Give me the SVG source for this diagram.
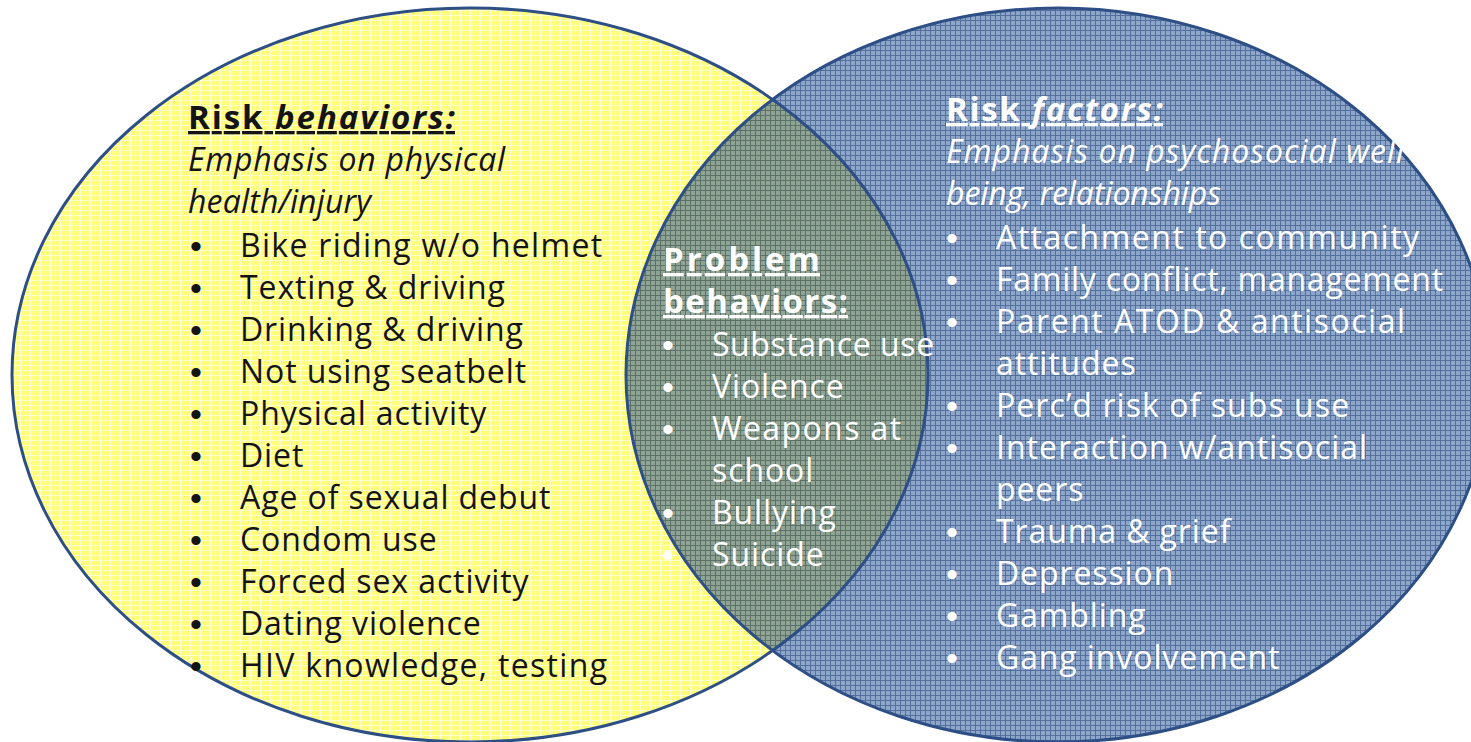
<svg xmlns="http://www.w3.org/2000/svg" width="1471" height="742" viewBox="0 0 1471 742">
<defs>
<pattern id="pY" width="5" height="5" patternUnits="userSpaceOnUse"><rect width="5" height="5" fill="#ffff78"/><path d="M0 0.5H5M0.5 0V5" stroke="#ffffcf" stroke-width="1"/></pattern>
<pattern id="pB" width="5" height="5" patternUnits="userSpaceOnUse"><rect width="5" height="5" fill="#8ea6ca"/><path d="M0 0.5H5M0.5 0V5" stroke="#53709c" stroke-width="1"/></pattern>
<pattern id="pG" width="5" height="5" patternUnits="userSpaceOnUse"><rect width="5" height="5" fill="#8fa495"/><path d="M0 0.5H5M0.5 0V5" stroke="#5d7266" stroke-width="1"/></pattern>
<clipPath id="clipL"><ellipse cx="470" cy="375" rx="458" ry="367"/></clipPath>
</defs>
<style>
.t{font-family:"Open Sans",Lato,"Liberation Sans",sans-serif;font-size:32px;letter-spacing:0.9px}
.dk{fill:#141414}
.wh{fill:#ffffff}
.b{font-weight:bold;letter-spacing:0;font-size:33px}
.i{font-style:italic}
.u{text-decoration:underline}
.bl{font-family:"Liberation Sans",Arial,sans-serif;font-size:34px;letter-spacing:0}
.edge{fill:none;stroke:#2d4f86;stroke-width:3}
</style>
<rect width="1471" height="742" fill="#ffffff"/>
<g id="shapes">
<ellipse id="left-circle" cx="470" cy="375" rx="458" ry="367" fill="url(#pY)"/>
<ellipse id="right-circle" cx="1058" cy="375" rx="432" ry="367" fill="url(#pB)"/>
<ellipse id="overlap" cx="1058" cy="375" rx="432" ry="367" fill="url(#pG)" clip-path="url(#clipL)"/>
<ellipse class="edge" cx="470" cy="375" rx="458" ry="367"/>
<ellipse class="edge" cx="1058" cy="375" rx="432" ry="367"/>
</g>
<g id="connectors"></g>
<g id="risk-behaviors" class="t dk">
<text x="188" y="129" class="b u" textLength="267" lengthAdjust="spacing">Risk <tspan class="i">behaviors:</tspan></text>
<text x="188" y="171" class="i" textLength="318">Emphasis on physical</text>
<text x="188" y="213" class="i" textLength="184">health/injury</text>
<g>
<text x="190" y="258" class="bl">•</text><text x="240" y="257" textLength="363">Bike riding w/o helmet</text>
<text x="190" y="300" class="bl">•</text><text x="240" y="299">Texting &amp; driving</text>
<text x="190" y="342" class="bl">•</text><text x="240" y="341">Drinking &amp; driving</text>
<text x="190" y="384" class="bl">•</text><text x="240" y="383">Not using seatbelt</text>
<text x="190" y="426" class="bl">•</text><text x="240" y="425">Physical activity</text>
<text x="190" y="468" class="bl">•</text><text x="240" y="467">Diet</text>
<text x="190" y="510" class="bl">•</text><text x="240" y="509">Age of sexual debut</text>
<text x="190" y="552" class="bl">•</text><text x="240" y="551">Condom use</text>
<text x="190" y="594" class="bl">•</text><text x="240" y="593">Forced sex activity</text>
<text x="190" y="636" class="bl">•</text><text x="240" y="635">Dating violence</text>
<text x="190" y="678" class="bl">•</text><text x="240" y="677" textLength="368">HIV knowledge, testing</text>
</g>
</g>
<g id="problem-behaviors" class="t wh">
<text x="663" y="271" class="b u" textLength="157" lengthAdjust="spacing">Problem</text>
<text x="663" y="313" class="b u" textLength="185" lengthAdjust="spacing">behaviors:</text>
<text x="662" y="357" class="bl">•</text><text x="712" y="356" textLength="223">Substance use</text>
<text x="662" y="399" class="bl">•</text><text x="712" y="398">Violence</text>
<text x="662" y="441" class="bl">•</text><text x="712" y="440" textLength="190">Weapons at</text>
<text x="712" y="482">school</text>
<text x="662" y="525" class="bl">•</text><text x="712" y="524">Bullying</text>
<text x="662" y="567" class="bl">•</text><text x="712" y="566">Suicide</text>
</g>
<g id="risk-factors" class="t wh">
<text x="946" y="121" class="b u" textLength="217" lengthAdjust="spacing">Risk <tspan class="i">factors:</tspan></text>
<text x="946" y="163" class="i" textLength="470">Emphasis on psychosocial well-</text>
<text x="946" y="205" class="i" textLength="276">being, relationships</text>
<text x="946" y="250" class="bl">•</text><text x="996" y="249" textLength="424">Attachment to community</text>
<text x="946" y="292" class="bl">•</text><text x="996" y="291" textLength="448">Family conflict, management</text>
<text x="946" y="334" class="bl">•</text><text x="996" y="333" textLength="410">Parent ATOD &amp; antisocial</text>
<text x="996" y="375">attitudes</text>
<text x="946" y="418" class="bl">•</text><text x="996" y="417" textLength="354">Perc’d risk of subs use</text>
<text x="946" y="460" class="bl">•</text><text x="996" y="459" textLength="372">Interaction w/antisocial</text>
<text x="996" y="501">peers</text>
<text x="946" y="544" class="bl">•</text><text x="996" y="543">Trauma &amp; grief</text>
<text x="946" y="586" class="bl">•</text><text x="996" y="585">Depression</text>
<text x="946" y="628" class="bl">•</text><text x="996" y="627">Gambling</text>
<text x="946" y="670" class="bl">•</text><text x="996" y="669">Gang involvement</text>
</g>
</svg>
